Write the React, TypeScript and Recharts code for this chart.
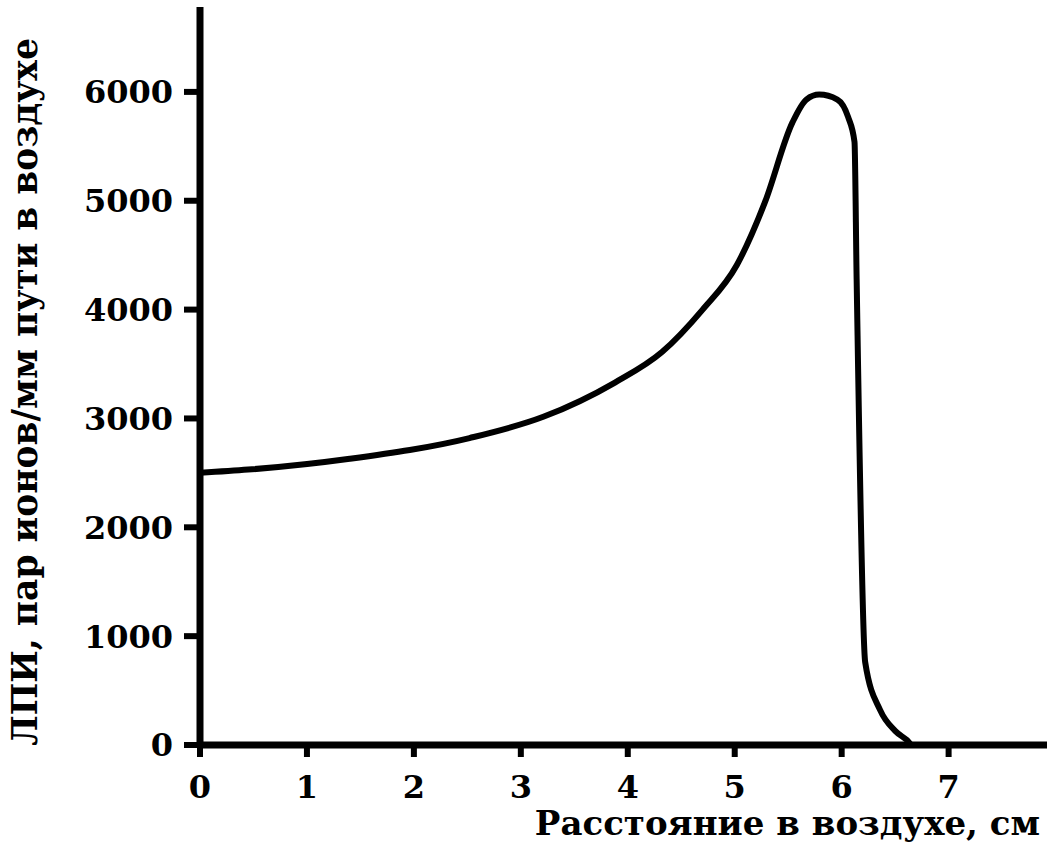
import { LineChart, Line, XAxis, YAxis } from 'recharts';

// distance in air, cm
const distance = [0, 0.45, 1.4, 2.52, 3.21, 3.88, 4.32, 4.7, 5.02, 5.28, 5.54, 5.67, 5.79, 5.96, 6.06, 6.12, 6.14, 6.22, 6.36, 6.5, 6.61, 6.66, 7.0, 7.4];
// specific ionization, ion pairs per mm
const ionPairs = [2500, 2530, 2630, 2820, 3015, 3330, 3610, 4000, 4410, 4980, 5720, 5930, 5975, 5930, 5770, 5540, 4280, 760, 320, 130, 45, 0, 0, 0];

const xTicks = [0, 1, 2, 3, 4, 5, 6, 7];
const yTicks = [0, 1000, 2000, 3000, 4000, 5000, 6000];

const xTitle = 'Расстояние в воздухе, см';
const yTitle = 'ЛПИ, пар ионов/мм пути в воздухе';

const data = distance.map((d, i) => ({ x: d, y: ionPairs[i] }));

const FONT = '"DejaVu Serif", serif';

const App = () => {
  return (
    <div style={{ position: 'absolute', left: 0, top: 0, background: '#fff' }}>
      <LineChart
        width={1047}
        height={860}
        data={data}
        margin={{ top: 7, right: 0, bottom: 0, left: 0 }}
      >
        <XAxis
          dataKey="x"
          type="number"
          domain={[0, 7.92]}
          ticks={xTicks}
          allowDataOverflow
          height={115}
          stroke="#000"
          axisLine={{ strokeWidth: 7 }}
          tickLine={{ strokeWidth: 6 }}
          tickSize={12}
          tickMargin={18}
          tick={{ fill: '#000', fontSize: 32, fontWeight: 700, fontFamily: FONT }}
          label={{
            content: (props: any) => {
              const vb = props.viewBox;
              return (
                <text
                  x={vb.x + vb.width - 7}
                  y={vb.y + vb.height - 25}
                  textAnchor="end"
                  fontFamily={FONT}
                  fontWeight={700}
                  fontSize={34}
                  fill="#000"
                >
                  {xTitle}
                </text>
              );
            },
          }}
        />
        <YAxis
          dataKey="y"
          type="number"
          domain={[0, 6780]}
          ticks={yTicks}
          allowDataOverflow
          width={200}
          stroke="#000"
          axisLine={{ strokeWidth: 7 }}
          tickLine={{ strokeWidth: 6 }}
          tickSize={16}
          tickMargin={11}
          tick={{ fill: '#000', fontSize: 32, fontWeight: 700, fontFamily: FONT }}
          label={{
            content: (props: any) => {
              const vb = props.viewBox;
              const cx = vb.x + 25;
              const cy = vb.y + vb.height / 2 + 16;
              return (
                <text
                  x={cx}
                  y={cy}
                  transform={`rotate(-90, ${cx}, ${cy})`}
                  textAnchor="middle"
                  dominantBaseline="central"
                  fontFamily={FONT}
                  fontWeight={700}
                  fontSize={34.5}
                  fill="#000"
                >
                  {yTitle}
                </text>
              );
            },
          }}
        />
        <Line
          type="monotone"
          dataKey="y"
          stroke="#000"
          strokeWidth={6}
          dot={false}
          isAnimationActive={false}
        />
      </LineChart>
    </div>
  );
};

export default App;
